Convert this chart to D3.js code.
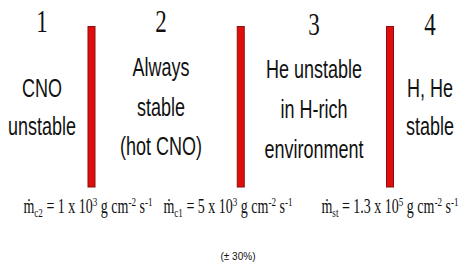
<!DOCTYPE html>
<meta charset="utf-8">
<script src="https://d3js.org/d3.v7.min.js"></script>
<style>
body { margin:0; background:#fff; }
.num { font-family:"Liberation Serif", serif; font-size:32px; fill:#111; }
.lbl { font-family:"Liberation Sans", Arial, sans-serif; font-size:25px; fill:#111; }
.eq { font-family:"Liberation Serif", serif; font-size:20px; fill:#111; }
.note { font-family:"Liberation Sans", Arial, sans-serif; font-size:10px; fill:#111; }
</style>
<body></body>
<script>

// regions (columns) and their labels
var regions = ["1", "2", "3", "4"];
var labels = [
  ["CNO", "unstable"],
  ["Always", "stable", "(hot CNO)"],
  ["He unstable", "in H-rich", "environment"],
  ["H, He", "stable"]
];

// critical accretion rates between regions
var rateNames = ["c2", "c1", "st"];
var rateMantissa = ["1", "5", "1.3"];
var rateExponent = ["3", "3", "5"];
var note = "(\u00b1 30%)";

var width = 459, height = 270;
var squeeze = 0.72; // the original lettering is narrow

var svg = d3.select("body").append("svg")
    .attr("width", width)
    .attr("height", height);

// column centres and boundary positions
var colX = d3.scaleOrdinal().domain(regions).range([42, 161, 314, 430]);
var barX = d3.scaleLinear().domain([1, 3]).range([91.5, 390]);
var eqX = d3.scaleOrdinal().domain(rateNames).range([88, 228, 390]);

// numbers on top
svg.selectAll(".num")
  .data(regions)
  .enter().append("text")
  .attr("class", "num")
  .attr("text-anchor", "middle")
  .attr("transform", function(d, i) { return "translate(" + colX(d) + "," + (i < 2 ? 32 : 34.5) + ") scale(" + squeeze + ",1)"; })
  .text(function(d) { return d; });

// red boundaries
svg.selectAll(".bar")
  .data(rateNames)
  .enter().append("rect")
  .attr("class", "bar")
  .attr("x", function(d, i) { return barX(i + 1) - 3.5; })
  .attr("y", 26.5)
  .attr("width", 7)
  .attr("height", 160.5)
  .attr("fill", "#e00d0d")
  .attr("stroke", "#8a1010")
  .attr("stroke-width", 1);

// label text, each column has its own vertical placement
var firstLine = [97, 76, 78, 97];
var lineGap = [38, 39.5, 40, 38];

labels.forEach(function(lines, c) {
  svg.selectAll(".lbl" + c)
    .data(lines)
    .enter().append("text")
    .attr("class", "lbl")
    .attr("text-anchor", "middle")
    .attr("transform", function(d, i) {
      return "translate(" + colX(regions[c]) + "," + (firstLine[c] + i * lineGap[c]) + ") scale(" + squeeze + ",1)";
    })
    .text(function(d) { return d; });
});

// formulas
var eq = svg.selectAll(".eq")
  .data(rateNames)
  .enter().append("text")
  .attr("class", "eq")
  .attr("text-anchor", "middle")
  .attr("transform", function(d) { return "translate(" + eqX(d) + ",213) scale(0.7,1)"; });

eq.each(function(d, i) {
  var t = d3.select(this);
  t.append("tspan").text("\u1e41");
  t.append("tspan").attr("dy", 4).attr("font-size", 13).text(d);
  t.append("tspan").attr("dy", -4).text(" = " + rateMantissa[i] + " x 10");
  t.append("tspan").attr("dy", -7).attr("font-size", 13).text(rateExponent[i]);
  t.append("tspan").attr("dy", 7).text(" g cm");
  t.append("tspan").attr("dy", -7).attr("font-size", 13).text("-2");
  t.append("tspan").attr("dy", 7).text(" s");
  t.append("tspan").attr("dy", -7).attr("font-size", 13).text("-1");
});

svg.append("text")
  .attr("class", "note")
  .attr("text-anchor", "middle")
  .attr("x", 238)
  .attr("y", 260)
  .text(note);

</script>
